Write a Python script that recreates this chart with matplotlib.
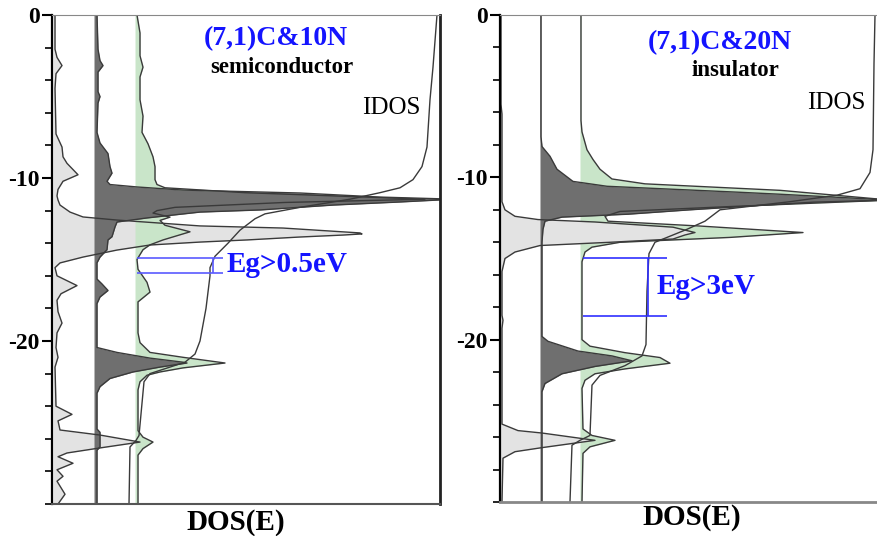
import numpy as np
import matplotlib
matplotlib.use('Agg')
import matplotlib.pyplot as plt

plt.rcParams['font.family'] = ['Liberation Serif', 'DejaVu Serif']

# ---- (7,1)C&10N : energies (eV) and DOS ----
e_l1 = [0, -2.1, -2.6, -3.1, -3.6, -4.5, -7.3, -8.1, -8.7, -9.1, -9.8, -10.2, -10.7, -11.1, -11.35,
        -11.66, -12.09, -12.39, -12.58, -12.94, -13.07, -13.37, -13.43, -13.5, -13.62, -13.8, -13.93,
        -14.11, -14.42, -14.85, -15.21, -15.5, -16.0, -16.6, -17.1, -17.5, -18.2, -18.9, -19.5, -20.4,
        -21.0, -21.6, -24.0, -24.5, -24.9, -25.46, -25.77, -26.2, -26.56, -26.87, -27.1, -27.5, -27.9,
        -28.3, -28.6, -29.4, -30]
d_l1 = [2, 2, 4, 9, 3, 2, 3, 9, 10, 14, 25, 10, 5, 4, 5, 7, 17, 30, 64, 147, 230, 307, 309, 290, 247,
        194, 147, 97, 64, 30, 7, 2, 4, 24, 8, 4, 5, 9, 4, 3, 5, 2, 3, 19, 5, 7, 47, 87, 47, 14, 5, 20,
        4, 10, 4, 12, 5]

e_l2 = [0, -2.1, -2.8, -3.1, -3.5, -4.7, -5.0, -5.4, -7.2, -7.85, -8.5, -9.3, -9.7, -10.2, -10.4,
        -10.55, -10.74, -10.92, -11.17, -11.3, -11.47, -11.66, -11.96, -12.09, -12.45, -12.7, -13.0,
        -13.6, -13.8, -14.4, -14.85, -15.2, -16.2, -16.5, -16.9, -17.3, -17.7, -20.4, -20.7, -21.05,
        -21.3, -21.35, -21.6, -21.9, -22.3, -22.8, -23.2, -25.4, -25.6, -26.5, -26.7, -30]
d_l2 = [3, 4, 6, 9, 4, 4, 6, 4, 3, 6, 14, 16, 18, 13, 16, 43, 89, 206, 286, 360, 306, 239, 166, 106,
        53, 23, 21, 18, 14, 13, 6, 3, 3, 8, 14, 6, 3, 3, 23, 56, 89, 93, 66, 39, 16, 6, 3, 3, 6, 6, 3, 3]

e_l3 = [0, -1.1, -2.5, -3.2, -3.8, -5.2, -6.2, -7.2, -7.9, -8.7, -9.3, -10.1, -10.4, -10.6, -10.9,
        -11.3, -11.5, -11.8, -12.0, -12.15, -12.4, -12.6, -12.9, -13.3, -13.8, -14.1, -14.4, -15.0,
        -15.6, -16.4, -17.0, -17.6, -19.5, -20.1, -20.7, -21.0, -21.2, -21.35, -21.65, -21.9, -22.1,
        -22.5, -23.0, -25.5, -25.9, -26.2, -26.6, -27.0, -30]
d_l3 = [2, 5, 5, 8, 5, 5, 8, 7, 13, 18, 20, 20, 22, 30, 110, 290, 150, 40, 22, 18, 35, 25, 30, 55,
        28, 15, 8, 2, 3, 12, 15, 3, 3, 5, 15, 48, 72, 90, 48, 25, 12, 5, 3, 3, 8, 18, 8, 3, 3]

e_lidos = [-30, -26.5, -26.1, -25.8, -22.5, -22.0, -21.6, -21.3, -20.8, -20.0, -18.0, -16.0, -15.5,
           -14.8, -14.0, -13.2, -12.5, -12.2, -11.8, -11.3, -10.9, -10.6, -10.1, -9.3, -8.1, -5.2,
           -3.2, 0]
v_lidos = [0, 1, 7, 10, 15, 21, 41, 56, 66, 71, 77, 81, 81, 86, 99, 111, 126, 136, 171, 221, 251,
           271, 284, 293, 298, 301, 304, 308]
eg_left = [-14.9, -15.83]

# ---- (7,1)C&20N ----
e_r1 = [0, -5.5, -6.1, -11.5, -12.0, -12.4, -12.6, -12.75, -13.07, -13.4, -13.55, -13.8, -14.0,
        -14.2, -14.6, -15.0, -15.8, -18.5, -18.8, -19.3, -25.2, -25.6, -25.75, -26.2, -26.65, -26.9,
        -27.3, -30]
d_r1 = [1, 1, 2, 2, 5, 15, 38, 95, 173, 195, 185, 173, 110, 40, 15, 5, 2, 2, 3, 2, 2, 18, 42, 95,
        42, 15, 3, 2]

e_r2 = [0, -7.5, -8.1, -8.7, -9.5, -10.25, -10.55, -10.92, -11.04, -11.4, -11.53, -11.78, -12.0,
        -12.27, -12.45, -12.7, -13.2, -14.0, -19.8, -20.1, -20.7, -21.0, -21.3, -21.65, -22.1, -22.7,
        -23.2, -30]
d_r2 = [1, 1, 2, 10, 17, 33, 67, 200, 240, 350, 273, 207, 150, 88, 22, 5, 3, 2, 2, 8, 38, 72, 92,
        55, 22, 5, 2, 2]

e_r3 = [0, -6.5, -7.2, -8.3, -8.9, -9.5, -10.1, -10.4, -10.8, -11.4, -11.8, -12.1, -12.4, -12.7,
        -13.0, -13.4, -13.7, -14.0, -14.3, -14.6, -15.2, -20.0, -20.4, -20.8, -21.1, -21.45, -21.8,
        -22.1, -22.5, -23.0, -25.5, -25.9, -26.2, -26.6, -27.0, -30]
d_r3 = [1, 1, 2, 7, 13, 20, 32, 65, 200, 310, 150, 40, 25, 28, 120, 223, 150, 40, 12, 5, 2, 2, 10,
        45, 80, 90, 45, 15, 5, 2, 3, 12, 35, 10, 3, 2]

e_ridos = [-30, -26.5, -26.2, -25.9, -22.8, -22.2, -21.6, -21.0, -20.3, -17.0, -14.7, -14.0, -13.2,
           -12.7, -12.0, -11.5, -11.1, -10.7, -9.7, -8.3, -3.0, 0]
v_ridos = [0, 2, 10, 20, 22, 30, 55, 72, 76, 77, 79, 85, 117, 135, 150, 220, 267, 290, 300, 303,
           304, 305]
eg_right = [-14.97, -18.53]

c_light = '#e3e3e3'
c_dark = '#6f6f6f'
c_green = '#c9e5c9'
c_edge = '#3a3a3a'
c_blue = '#1414ff'


def draw_panel(ax, curves, idos_e, idos_v, idos_off, xmax):
    # curves: list of (energies, dos, baseline, color), drawn in order
    for e, d, base, col in curves:
        e = np.array(e)
        x = base + np.array(d)
        ax.fill_betweenx(e, base, x, color=col, lw=0)
    for e, d, base, col in curves:
        ax.plot(base + np.array(d), e, color=c_edge, lw=1.0)
    ax.plot(idos_off + np.array(idos_v), idos_e, color=c_edge, lw=1.0)
    ax.set_xlim(0, xmax)
    ax.set_ylim(-30, 0)
    ax.set_xticks([])
    ax.set_yticks([0, -10, -20], labels=['0', '-10', '-20'], fontsize=17, fontweight='bold')
    ax.set_yticks(np.arange(-30, 1, 2), minor=True)
    ax.tick_params(axis='y', which='major', length=7, width=1.5, direction='out', pad=2)
    ax.tick_params(axis='y', which='minor', length=5, width=1.2, direction='out')


fig = plt.figure(figsize=(8.77, 5.36), dpi=100)

ax1 = fig.add_axes([0.0593, 0.0597, 0.4424, 0.9123])
draw_panel(ax1, [(e_l1, d_l1, 1, c_light), (e_l3, d_l3, 83, c_green), (e_l2, d_l2, 42, c_dark)],
           e_lidos, v_lidos, 77, 388)
ax1.spines['left'].set_linewidth(1.6)
ax1.spines['top'].set_color('#888888')
ax1.spines['right'].set_linewidth(2)
ax1.spines['right'].set_color('#222222')
ax1.spines['bottom'].set_linewidth(1.5)
ax1.spines['bottom'].set_color('#555555')

ax2 = fig.add_axes([0.5701, 0.0634, 0.4299, 0.9086])
draw_panel(ax2, [(e_r3, d_r3, 80, c_green), (e_r1, d_r1, 0, c_light), (e_r2, d_r2, 40, c_dark)],
           e_ridos, v_ridos, 70, 377)
ax2.spines['right'].set_visible(False)
ax2.spines['left'].set_linewidth(1.6)
ax2.spines['top'].set_color('#888888')
ax2.spines['bottom'].set_linewidth(2)
ax2.spines['bottom'].set_color('#888888')

# band gap markers
ax1.hlines(eg_left, 85, 171, color='#5a5aff', lw=1.2)
ax1.vlines(161, eg_left[1], eg_left[0], color='#5a5aff', lw=1.2)
ax2.hlines(eg_right, 83, 167, color='#3030ff', lw=1.2)
ax2.vlines(148, eg_right[1], eg_right[0], color='#3030ff', lw=1.2)

ax1.text(224, -1.45, '(7,1)C&10N', color=c_blue, fontsize=20, fontweight='bold', ha='center', va='center')
ax1.text(230, -3.2, 'semiconductor', color='black', fontsize=16.5, fontweight='bold', ha='center', va='center')
ax1.text(339, -5.7, 'IDOS', color='black', fontsize=18, ha='center', va='center')
ax1.text(175, -15.3, 'Eg>0.5eV', color=c_blue, fontsize=21, fontweight='bold', ha='left', va='center')

ax2.text(220, -1.7, '(7,1)C&20N', color=c_blue, fontsize=20, fontweight='bold', ha='center', va='center')
ax2.text(235, -3.4, 'insulator', color='black', fontsize=16.5, fontweight='bold', ha='center', va='center')
ax2.text(336, -5.4, 'IDOS', color='black', fontsize=18, ha='center', va='center')
ax2.text(157, -16.7, 'Eg>3eV', color=c_blue, fontsize=21, fontweight='bold', ha='left', va='center')

fig.text(236 / 877, 0.026, 'DOS(E)', fontsize=21, fontweight='bold', ha='center', va='center')
fig.text(692 / 877, 0.035, 'DOS(E)', fontsize=21, fontweight='bold', ha='center', va='center')

fig.savefig('out.png', dpi=100)
